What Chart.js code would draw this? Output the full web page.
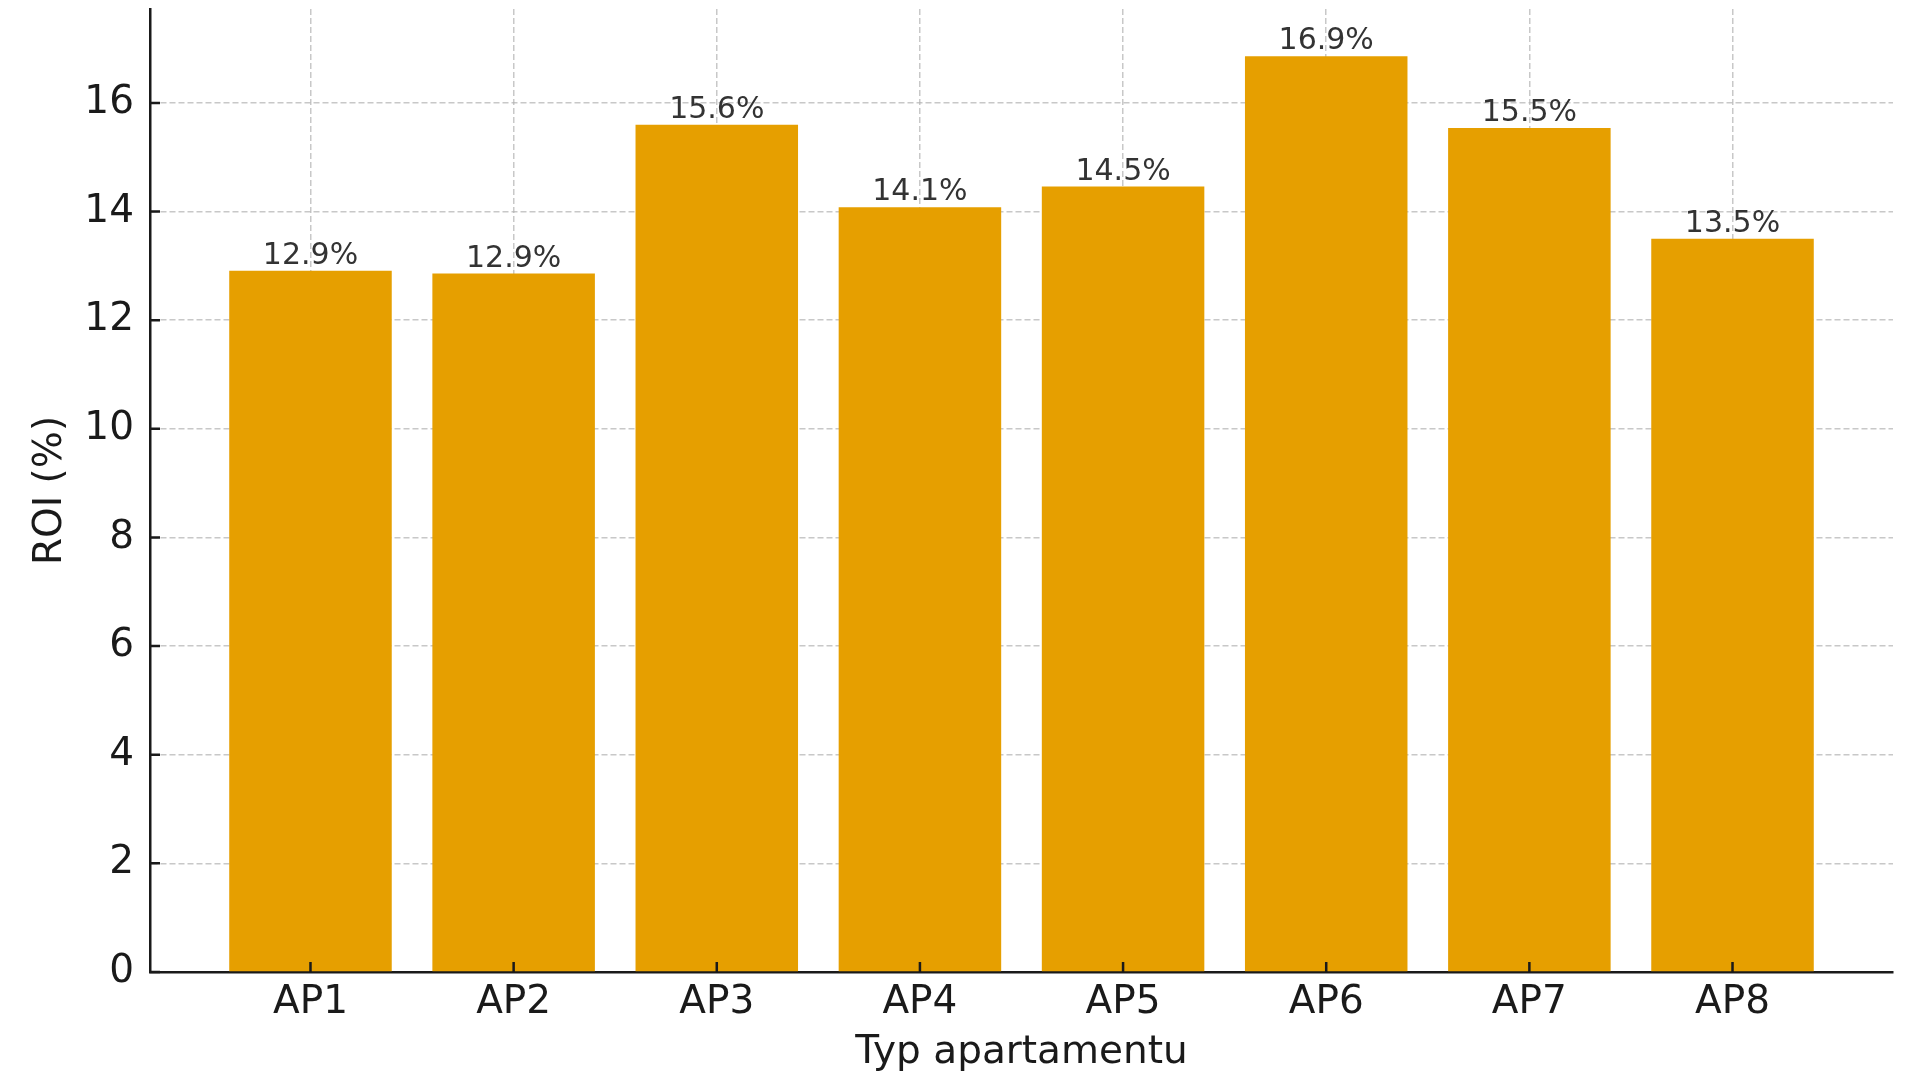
<!DOCTYPE html>
<html>
<head>
<meta charset="utf-8">
<script src="https://cdn.jsdelivr.net/npm/chart.js@4.4.1/dist/chart.umd.min.js"></script>
<style>
  html, body { margin: 0; padding: 0; background: #fff; }
  canvas { display: block; }
</style>
</head>
<body>
<canvas id="roi-chart" width="1909" height="1078"></canvas>
<script>
// ROI per apartment type
const categories = ['AP1', 'AP2', 'AP3', 'AP4', 'AP5', 'AP6', 'AP7', 'AP8'];
const roiValues = [12.91, 12.86, 15.6, 14.08, 14.46, 16.86, 15.54, 13.5];
const yTicks = [0, 2, 4, 6, 8, 10, 12, 14, 16];

const FONT = "'DejaVu Sans', sans-serif";
const INK = '#1a1a1a';

// value labels above bars
const barLabels = {
  id: 'barLabels',
  afterDatasetsDraw(chart) {
    const ctx = chart.ctx;
    const meta = chart.getDatasetMeta(0);
    ctx.save();
    ctx.font = '30px ' + FONT;
    ctx.fillStyle = '#333';
    ctx.textAlign = 'center';
    ctx.textBaseline = 'alphabetic';
    meta.data.forEach((bar, i) => {
      ctx.fillText(roiValues[i].toFixed(1) + '%', bar.x, bar.y - 7);
    });
    ctx.restore();
  }
};

// matplotlib-style inward tick marks
const inTicks = {
  id: 'inTicks',
  afterDraw(chart) {
    const ctx = chart.ctx;
    const area = chart.chartArea;
    const len = 10;
    ctx.save();
    ctx.strokeStyle = INK;
    ctx.lineWidth = 2.5;
    ctx.beginPath();
    chart.scales.y.ticks.forEach(t => {
      const y = chart.scales.y.getPixelForValue(t.value);
      ctx.moveTo(area.left, y);
      ctx.lineTo(area.left + len, y);
    });
    chart.scales.x.ticks.forEach(t => {
      const x = chart.scales.x.getPixelForValue(t.value);
      ctx.moveTo(x, area.bottom);
      ctx.lineTo(x, area.bottom - len);
    });
    ctx.stroke();
    ctx.restore();
  }
};

const gridStyle = {
  color: 'rgba(176,176,176,0.7)',
  lineWidth: 1.5,
  drawTicks: false,
  offset: false
};

new Chart(document.getElementById('roi-chart'), {
  type: 'bar',
  data: {
    datasets: [{
      data: categories.map((c, i) => ({ x: i, y: roiValues[i] })),
      backgroundColor: '#E69F00',
      borderWidth: 0,
      barPercentage: 0.8,
      categoryPercentage: 1.0
    }]
  },
  options: {
    responsive: false,
    animation: false,
    layout: { padding: { left: 10, right: 16, top: 9, bottom: 2 } },
    plugins: {
      legend: { display: false },
      tooltip: { enabled: false }
    },
    scales: {
      x: {
        type: 'linear',
        z: 1,
        offset: false,
        min: -0.79,
        max: 7.79,
        afterBuildTicks(scale) {
          scale.ticks = categories.map((c, i) => ({ value: i }));
        },
        afterFit(scale) {
          scale.height = 104;
        },
        ticks: {
          padding: 7,
          color: INK,
          font: { family: FONT, size: 39 },
          maxRotation: 0,
          callback: (v) => categories[v]
        },
        grid: gridStyle,
        border: { display: true, color: INK, width: 2.5, dash: [6, 3] },
        title: {
          display: true,
          text: 'Typ apartamentu',
          color: INK,
          font: { family: FONT, size: 39 },
          padding: { top: 0, bottom: 0 }
        }
      },
      y: {
        z: 1,
        min: 0,
        max: 17.73,
        afterBuildTicks(scale) {
          scale.ticks = yTicks.map(v => ({ value: v }));
        },
        afterFit(scale) {
          scale.width = 140;
          scale.paddingTop = 0;
          scale.paddingBottom = 0;
        },
        ticks: {
          padding: 16,
          color: INK,
          font: { family: FONT, size: 39 }
        },
        grid: gridStyle,
        border: { display: true, color: INK, width: 2.5, dash: [6, 3] },
        title: {
          display: true,
          text: 'ROI (%)',
          color: INK,
          font: { family: FONT, size: 39 },
          padding: { top: 17.5, bottom: 13 }
        }
      }
    }
  },
  plugins: [barLabels, inTicks]
});
</script>
</body>
</html>
